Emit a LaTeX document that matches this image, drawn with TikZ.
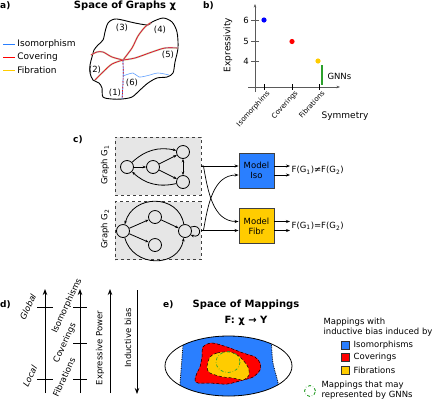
\documentclass[tikz,border=0pt]{standalone}
\usepackage{fontspec}
\setmainfont{DejaVu Sans}
\usetikzlibrary{arrows.meta,positioning,calc}
\definecolor{isoblue}{RGB}{42,127,255}
\definecolor{covred}{RGB}{255,0,0}
\definecolor{fibyellow}{RGB}{255,204,0}
\definecolor{gnngreen}{RGB}{44,160,44}
\definecolor{boxgray}{RGB}{230,230,230}
\definecolor{axisgray}{RGB}{90,90,90}
\newcommand{\mapcurve}[1]{%
  \draw[fibyellow,line width=1.8pt,opacity=.45] plot[smooth] coordinates {#1};
  \draw[isoblue!60,line width=1.1pt] plot[smooth] coordinates {#1};
  \draw[covred,line width=.6pt] plot[smooth] coordinates {#1};}
\tikzset{
  panel/.style={font=\fontsize{9}{10}\selectfont\bfseries,anchor=west,inner sep=0pt},
  txt/.style={font=\fontsize{8.5}{10}\selectfont},
  small/.style={font=\fontsize{7}{8}\selectfont},
  gnode/.style={circle,draw,line width=.8pt,minimum size=13pt,inner sep=0pt},
  gedge/.style={-{Stealth[length=3.5pt]},line width=.8pt},
  graphbox/.style={draw=black!75,dashed,fill=boxgray,line width=.9pt,minimum width=86pt,minimum height=58pt},
  model/.style={draw=black!75,line width=.9pt,minimum width=35pt,minimum height=35pt,align=center,font=\fontsize{8.5}{10}\selectfont},
  flow/.style={-{Stealth[length=4pt]},line width=.7pt},
  bigarrow/.style={-{Stealth[length=6pt]},line width=.9pt},
}
\begin{document}
\begin{tikzpicture}[x=1pt,y=-1pt]
\useasboundingbox (0,0) rectangle (433,400);
% a)
\node[panel] (lbla) at (0,6) {a)};
\node[font=\fontsize{10}{11}\selectfont\bfseries] (titlea) at (125,6) {Space of Graphs χ};
\draw[isoblue,line width=.9pt] (3,44) -- (15,44) node[txt,font=\fontsize{9}{10}\selectfont,text=black,anchor=west,inner sep=2pt] (legiso) {Isomorphism};
\draw[covred,line width=.9pt] (3,57) -- (15,57) node[txt,font=\fontsize{9}{10}\selectfont,text=black,anchor=west,inner sep=2pt] (legcov) {Covering};
\draw[fibyellow,line width=.9pt] (3,70) -- (15,70) node[txt,font=\fontsize{9}{10}\selectfont,text=black,anchor=west,inner sep=2pt] (legfib) {Fibration};
\draw[line width=.9pt] plot[smooth cycle] coordinates {(110,21) (117,19) (135,23) (148,25) (152,22) (163,18) (172,22) (177,32) (178,48) (175,62) (173,73) (167,77) (157,78) (148,83) (140,90) (132,97) (122,99) (112,99) (103,97) (102,88) (99,83) (93,80) (90,73) (90,65) (92,57) (94,50) (98,45) (103,40) (105,32) (107,25)};
\mapcurve{(123,60) (132,48) (138,36) (145,27) (151,22.5)}
\mapcurve{(123,60) (135,58) (152,52) (165,48) (177.5,48)}
\mapcurve{(123,60) (112,57) (103,52) (97,52) (91,55)}
\mapcurve{(123,60) (112,64) (103,72) (95,80)}
\draw[isoblue,line width=.7pt] (123,60) to[bend left=3] (122,99);
\draw[covred,line width=.7pt,dashed,dash pattern=on 1.5pt off 1.5pt] (123,60) to[bend left=3] (122,99);
\draw[isoblue!75,line width=.6pt] plot[smooth] coordinates {(123,76) (133,73) (139,77) (148,75.5) (158,73) (169,75)};
\foreach \lx/\ly/\lt in {122/28/3,160/30/4,168/55/5,95/70/2,132/83/6,115/93/1}
  \node[txt] (reg\lt) at (\lx,\ly) {(\lt)};
% b)
\node[panel] (lblb) at (203,6) {b)};
\draw[-{Stealth[length=3.5pt]},axisgray,line width=.8pt] (255,92) -- (255,4);
\draw[-{Stealth[length=3.5pt]},axisgray,line width=.8pt] (248,87) -- (340,87);
\foreach \yy/\vv in {20/6,41.5/5,61/4} {
  \draw[axisgray,line width=.7pt] (251,\yy) -- (259,\yy);
  \node[txt,anchor=east,inner sep=1pt] (yt\vv) at (250,\yy) {\vv};
}
\foreach \xx/\ll in {264/Isomorphims,292/Coverings,319/Fibrations} {
  \draw[black,line width=.7pt] (\xx,84) -- (\xx,90);
  \node[small,rotate=48,anchor=north east,inner sep=0.5pt] (xt\xx) at (\xx+2,89) {\ll};
}
\fill[blue] (264,20) circle (2.6);
\fill[covred] (292,41.5) circle (2.6);
\fill[fibyellow] (318,61) circle (2.6);
\draw[gnngreen,line width=1.2pt] (322,65) -- (322,85);
\node[txt,anchor=west] (gnnb) at (324,76) {GNNs};
\node[txt,font=\fontsize{9}{10}\selectfont,rotate=90] (expr) at (228,45) {Expressivity};
\node[txt,font=\fontsize{9}{10}\selectfont] (symm) at (345,116) {Symmetry};
% c)
\node[panel] (lblc) at (73,140) {c)};
\node[graphbox] (g1) at (158,166) {};
\node[graphbox] (g2) at (158,230.5) {};
\node[txt,rotate=90] (g1lbl) at (105,165) {Graph G\textsubscript{1}};
\node[txt,rotate=90] (g2lbl) at (105,229) {Graph G\textsubscript{2}};
\node[gnode] (a1) at (127,167) {};
\node[gnode] (b1) at (153,167) {};
\node[gnode] (c1) at (183,152) {};
\node[gnode] (d1) at (183,182) {};
\draw[gedge] (a1) -- (b1);
\draw[gedge] (b1) -- (c1);
\draw[gedge] (b1) -- (d1);
\draw[gedge,{Stealth[length=3.5pt]}-{Stealth[length=3.5pt]}] (c1) -- (d1);
\draw[gedge] (a1) to[bend left=28] (c1);
\draw[gedge] (d1) to[bend left=28] (a1);
\node[gnode] (a2) at (123,231) {};
\node[gnode] (b2) at (155,217) {};
\node[gnode] (c2) at (155,245) {};
\node[gnode] (d2) at (185,231) {};
\draw[gedge] (a2) -- (b2);
\draw[gedge] (a2) -- (c2);
\draw[gedge] (b2) -- (d2);
\draw[gedge] (d2) to[out=100,in=75,looseness=1.35] (a2);
\draw[gedge] (a2) to[out=-75,in=-100,looseness=1.35] (d2);
\draw[gedge] (d2.35) to[out=20,in=-20,looseness=4] (d2.-35);
\node[model,fill=isoblue] (iso) at (256.5,170.5) {Model\\Iso};
\node[model,fill=fibyellow] (fibr) at (256.5,226) {Model\\Fibr};
\draw[flow] (g1.east) -- ([yshift=4.5pt]iso.west);
\draw[flow] (g1.east) -- ++(2,0) to[out=-80,in=180] ([yshift=4.5pt]fibr.west);
\draw[flow] (g2.east) -- ([yshift=-4.5pt]fibr.west);
\draw[flow] (g2.east) -- ++(2,0) to[out=80,in=180] ([yshift=-4.5pt]iso.west);
\node[txt,anchor=west,inner sep=1.5pt] (neq) at (290,170.5) {F(G\textsubscript{1})≠F(G\textsubscript{2})};
\node[txt,anchor=west,inner sep=1.5pt] (eq) at (290,226) {F(G\textsubscript{1})=F(G\textsubscript{2})};
\draw[flow] ([yshift=4.5pt]iso.east) -- ([yshift=4.5pt]neq.west);
\draw[flow] ([yshift=-4.5pt]iso.east) -- ([yshift=-4.5pt]neq.west);
\draw[flow] ([yshift=4.5pt]fibr.east) -- ([yshift=4.5pt]eq.west);
\draw[flow] ([yshift=-4.5pt]fibr.east) -- ([yshift=-4.5pt]eq.west);
% d)
\node[panel] (lbld) at (0,305) {d)};
\draw[bigarrow] (45,393) -- (45,289);
\draw[bigarrow] (80,393) -- (80,289);
\draw[bigarrow] (110,393) -- (110,289);
\draw[bigarrow] (137,290) -- (137,394);
\foreach \yy in {307,379} \draw[line width=.9pt] (37,\yy) -- (53,\yy);
\foreach \yy in {307,343,379} \draw[line width=.9pt] (73,\yy) -- (87,\yy);
\node[rotate=65,inner sep=0pt,font=\fontsize{8.5}{10}\selectfont\itshape] (glob) at (28,307) {Global};
\node[rotate=65,inner sep=0pt,font=\fontsize{8.5}{10}\selectfont\itshape] (loc) at (30,376) {Local};
\node[txt,rotate=65,inner sep=0pt] (isod) at (67,306) {Isomorphisms};
\node[txt,rotate=65,inner sep=0pt] (covd) at (65,343) {Coverings};
\node[txt,rotate=65,inner sep=0pt] (fibd) at (64,377) {Fibrations};
\node[txt,rotate=90] (expd) at (100,348) {Expressive Power};
\node[txt,rotate=90] (indd) at (128,338) {Inductive bias};
% e)
\node[panel] (lble) at (163,305) {e)};
\node[font=\fontsize{10}{16}\selectfont\bfseries,align=center] (titlee) at (246,313) {Space of Mappings\\F: χ → Y};
\begin{scope}
  \clip (228.5,366) ellipse (63.5 and 30);
  \fill[isoblue] plot[smooth] coordinates {(184,334) (183,345) (181.5,364) (180,384) (179,399)}
    -- plot[smooth] coordinates {(279,399) (278,383) (273,363) (271.5,345) (271,334)} -- cycle;
  \draw[densely dotted,line width=.8pt] plot[smooth] coordinates {(184,334) (183,345) (181.5,364) (180,384) (179,399)};
  \draw[densely dotted,line width=.8pt] plot[smooth] coordinates {(279,399) (278,383) (273,363) (271.5,345) (271,334)};
\end{scope}
\draw[covred,fill=covred] plot[smooth cycle] coordinates {(203,347) (212,343) (227,347) (243,353) (255,357) (260,363) (260,370) (253,377) (243,380) (227,384) (210,383) (198,383) (195,380) (197,373) (200,367) (202,357)};
\draw[densely dashed,line width=.5pt] plot[smooth cycle] coordinates {(203,347) (212,343) (227,347) (243,353) (255,357) (260,363) (260,370) (253,377) (243,380) (227,384) (210,383) (198,383) (195,380) (197,373) (200,367) (202,357)};
\draw[fill=fibyellow,densely dashed,line width=.5pt] plot[smooth cycle] coordinates {(210,357) (217,353) (230,352) (240,357) (248,367) (249,375) (243,380) (233,378) (223,377) (210,373) (207,367)};
\draw[gnngreen,dash dot,line width=.7pt] (228,362) ellipse (12 and 10.5);
\draw[line width=.8pt] (228.5,366) ellipse (63.5 and 30);
\node[txt,anchor=west,align=left,font=\fontsize{8.5}{9.5}\selectfont] (legmap) at (320,327) {Mappings with\\inductive bias induced by};
\node[draw=black!80,fill=isoblue,minimum size=8pt,inner sep=0pt] (sqiso) at (345,345) {};
\node[draw=black!80,fill=covred,minimum size=8pt,inner sep=0pt] (sqcov) at (345,357.5) {};
\node[draw=black!80,fill=fibyellow,minimum size=8pt,inner sep=0pt] (sqfib) at (345,370) {};
\node[txt,right=1pt of sqiso] (tiso) {Isomorphisms};
\node[txt,right=1pt of sqcov] (tcov) {Coverings};
\node[txt,right=1pt of sqfib] (tfib) {Fibrations};
\node[circle,draw=gnngreen,dash dot,line width=.9pt,minimum size=11pt,inner sep=0pt] (gnnleg) at (310,391) {};
\node[txt,anchor=west,align=left,font=\fontsize{8.5}{9.5}\selectfont] (legnn) at (318,390) {Mappings that may\\represented by GNNs};
\end{tikzpicture}
\end{document}
